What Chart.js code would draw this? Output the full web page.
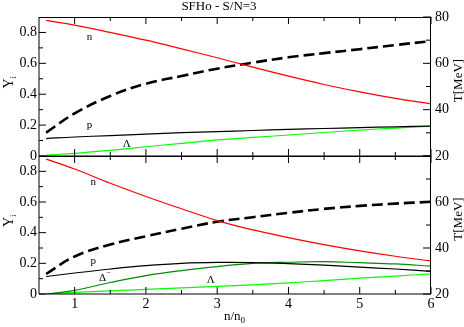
<!DOCTYPE html>
<html>
<head>
<meta charset="utf-8">
<script src="https://cdn.jsdelivr.net/npm/chart.js@4.4.1/dist/chart.umd.min.js"></script>
<style>
  html, body { margin: 0; padding: 0; background: #fff; }
  #wrap { position: relative; width: 464px; height: 327px; }
  #wrap canvas { position: absolute; left: 0; top: 0; }
</style>
</head>
<body>
<div id="wrap">
  <canvas id="upper" width="464" height="327"></canvas>
  <canvas id="lower" width="464" height="327"></canvas>
</div>
<script>
// n/n0 grid for every curve
const density = [0.6, 1, 1.5, 2, 2.5, 3, 3.5, 4, 4.5, 5, 5.5, 6];

// upper panel: nucleons + Lambda
const upperNeutron = [0.878, 0.847, 0.800, 0.750, 0.694, 0.636, 0.575, 0.517, 0.463, 0.415, 0.373, 0.337];
const upperProton  = [0.113, 0.123, 0.132, 0.141, 0.151, 0.158, 0.165, 0.173, 0.178, 0.184, 0.189, 0.194];
const upperLambda  = [0.006, 0.017, 0.037, 0.060, 0.082, 0.104, 0.120, 0.136, 0.152, 0.168, 0.181, 0.193];
const upperTemp    = [30.1, 38.4, 45.9, 51.2, 54.5, 57.7, 60.3, 62.6, 64.4, 66.1, 67.9, 69.6];

// lower panel: nucleons + Lambda + Delta-
const lowerNeutron = [0.880, 0.815, 0.722, 0.636, 0.556, 0.479, 0.418, 0.368, 0.322, 0.281, 0.246, 0.216];
const lowerProton  = [0.114, 0.137, 0.163, 0.185, 0.200, 0.206, 0.205, 0.198, 0.188, 0.175, 0.163, 0.148];
const lowerDelta   = [0.0, 0.024, 0.075, 0.120, 0.153, 0.179, 0.200, 0.207, 0.211, 0.204, 0.196, 0.182];
const lowerLambda  = [0.0, 0.010, 0.020, 0.030, 0.040, 0.050, 0.060, 0.073, 0.087, 0.103, 0.117, 0.131];
const lowerTemp    = [28.7, 36.3, 41.5, 45.1, 48.4, 51.4, 53.4, 55.3, 57.0, 58.3, 59.3, 60.1];

// ticks
const xTicks = [1, 2, 3, 4, 5, 6];
const xMinor = [1.5, 2.5, 3.5, 4.5, 5.5];
const xTickLabels = ['1', '2', '3', '4', '5', '6'];
const yTicks = [0, 0.2, 0.4, 0.6, 0.8];
const yMinor = [0.1, 0.3, 0.5, 0.7];
const yTickLabels = ['0', '0.2', '0.4', '0.6', '0.8'];
const tTicks = [20, 40, 60, 80];
const tMinor = [30, 50, 70];
const tTickLabels = ['20', '40', '60', '80'];

// curve labels (data coordinates)
const upperNotes = [
  { text: 'n', x: 1.21, y: 0.772 },
  { text: 'p', x: 1.21, y: 0.199 },
  { text: 'Λ', x: 1.73, y: 0.080 }
];
const lowerNotes = [
  { text: 'n', x: 1.26, y: 0.732 },
  { text: 'p', x: 1.26, y: 0.212 },
  { text: 'Δ', sup: '−', x: 1.39, y: 0.103 },
  { text: 'Λ', x: 2.91, y: 0.092 }
];

const SERIF = '"Liberation Serif", "DejaVu Serif", serif';

function pts(xs, ys) {
  return xs.map((v, i) => ({ x: v, y: ys[i] }));
}

function line(data, color, axis, extra) {
  return Object.assign({
    data: data,
    borderColor: color,
    borderWidth: 1.2,
    pointRadius: 0,
    tension: 0.4,
    fill: false,
    yAxisID: axis
  }, extra || {});
}

function framePlugin(opt) {
  return {
    id: 'frame',
    afterDraw(chart) {
      const { ctx, chartArea: a, scales } = chart;
      const x = scales.x, y = scales.y, t = scales.t;
      ctx.save();
      ctx.strokeStyle = '#000';
      ctx.lineWidth = 1;

      // box
      ctx.beginPath();
      ctx.moveTo(a.left, a.top + 0.5);
      ctx.lineTo(a.right + 0.5, a.top + 0.5);
      ctx.moveTo(a.right - 0.5, a.top);
      ctx.lineTo(a.right - 0.5, a.bottom);
      ctx.moveTo(a.left, a.top);
      ctx.lineTo(a.left, a.bottom);
      ctx.moveTo(a.left, a.bottom);
      ctx.lineTo(a.right, a.bottom);
      ctx.stroke();

      // inward ticks
      ctx.beginPath();
      xTicks.forEach(v => {
        const px = x.getPixelForValue(v);
        ctx.moveTo(px, a.bottom); ctx.lineTo(px, a.bottom - 7);
        ctx.moveTo(px, a.top); ctx.lineTo(px, a.top + 7);
      });
      xMinor.forEach(v => {
        const px = x.getPixelForValue(v);
        ctx.moveTo(px, a.bottom); ctx.lineTo(px, a.bottom - 4);
        ctx.moveTo(px, a.top); ctx.lineTo(px, a.top + 4);
      });
      yTicks.forEach(v => {
        const py = y.getPixelForValue(v);
        ctx.moveTo(a.left, py); ctx.lineTo(a.left + 7, py);
      });
      yMinor.forEach(v => {
        const py = y.getPixelForValue(v);
        ctx.moveTo(a.left, py); ctx.lineTo(a.left + 4, py);
      });
      tTicks.forEach(v => {
        const py = t.getPixelForValue(v);
        ctx.moveTo(a.right, py); ctx.lineTo(a.right - 8, py);
      });
      tMinor.forEach(v => {
        const py = t.getPixelForValue(v);
        ctx.moveTo(a.right, py); ctx.lineTo(a.right - 5, py);
      });
      ctx.stroke();

      // tick labels
      ctx.fillStyle = '#000';
      ctx.font = '14px ' + SERIF;
      ctx.textBaseline = 'middle';
      ctx.textAlign = 'right';
      yTicks.forEach((v, i) => {
        ctx.fillText(yTickLabels[i], a.left - 2, y.getPixelForValue(v));
      });
      ctx.textAlign = 'left';
      tTicks.forEach((v, i) => {
        if (opt.skipT && opt.skipT.includes(v)) return;
        ctx.fillText(tTickLabels[i], a.right + 4, t.getPixelForValue(v));
      });
      if (opt.xLabels) {
        ctx.textAlign = 'center';
        ctx.textBaseline = 'top';
        xTicks.forEach((v, i) => {
          ctx.fillText(xTickLabels[i], x.getPixelForValue(v), a.bottom + 3);
        });
      }

      // axis titles
      const midY = (a.top + a.bottom) / 2;
      ctx.save();
      ctx.translate(9, midY - 3);
      ctx.rotate(-Math.PI / 2);
      ctx.textAlign = 'left';
      ctx.textBaseline = 'alphabetic';
      ctx.font = '14px ' + SERIF;
      ctx.fillText('Y', -5, 4);
      ctx.font = '9px ' + SERIF;
      ctx.fillText('i', 5, 7);
      ctx.restore();

      ctx.save();
      ctx.translate(459, midY - 6);
      ctx.rotate(-Math.PI / 2);
      ctx.textAlign = 'center';
      ctx.textBaseline = 'middle';
      ctx.font = '13px ' + SERIF;
      ctx.fillText('T[MeV]', 0, 0);
      ctx.restore();

      if (opt.title) {
        ctx.textAlign = 'center';
        ctx.textBaseline = 'middle';
        ctx.font = '13px ' + SERIF;
        ctx.fillText(opt.title, 219, 7);
      }
      if (opt.xTitle) {
        ctx.textAlign = 'left';
        ctx.textBaseline = 'alphabetic';
        ctx.font = '13px ' + SERIF;
        ctx.fillText('n/n', 224, 320);
        const w = ctx.measureText('n/n').width;
        ctx.font = '9px ' + SERIF;
        ctx.fillText('0', 224 + w, 323);
      }

      // curve labels
      ctx.textBaseline = 'middle';
      ctx.textAlign = 'center';
      opt.notes.forEach(n => {
        const px = x.getPixelForValue(n.x), py = y.getPixelForValue(n.y);
        ctx.font = '11px ' + SERIF;
        ctx.fillText(n.text, px, py);
        if (n.sup) {
          ctx.font = '8px ' + SERIF;
          ctx.fillText(n.sup, px + 6, py - 5);
        }
      });
      ctx.restore();
    }
  };
}

function makePanel(id, pad, datasets, opt) {
  return new Chart(document.getElementById(id).getContext('2d'), {
    type: 'line',
    data: { datasets: datasets },
    options: {
      responsive: false,
      animation: false,
      devicePixelRatio: 1,
      layout: { padding: pad },
      plugins: { legend: { display: false }, tooltip: { enabled: false } },
      scales: {
        x: { type: 'linear', min: 0.5, max: 6, display: false },
        y: { type: 'linear', min: 0, max: 0.9, display: false },
        t: { type: 'linear', position: 'right', min: 20, max: 80, display: false }
      }
    },
    plugins: [framePlugin(opt)]
  });
}

document.addEventListener('DOMContentLoaded', () => {
  const dash = { borderWidth: 2.6, borderDash: [11, 5] };

  makePanel('upper', { left: 39, right: 33, top: 17, bottom: 171 }, [
    line(pts(density, upperNeutron), '#ff0000', 'y'),
    line(pts(density, upperProton), '#000000', 'y'),
    line(pts(density, upperLambda), '#00ff00', 'y'),
    line(pts(density, upperTemp), '#000000', 't', dash)
  ], { notes: upperNotes, title: 'SFHo - S/N=3' });

  makePanel('lower', { left: 39, right: 33, top: 156, bottom: 33 }, [
    line(pts(density, lowerNeutron), '#ff0000', 'y'),
    line(pts(density, lowerProton), '#000000', 'y'),
    line(pts(density, lowerDelta), '#008b00', 'y'),
    line(pts(density, lowerLambda), '#00ff00', 'y'),
    line(pts(density, lowerTemp), '#000000', 't', dash)
  ], { notes: lowerNotes, xLabels: true, xTitle: true, skipT: [80] });
});
</script>
</body>
</html>
